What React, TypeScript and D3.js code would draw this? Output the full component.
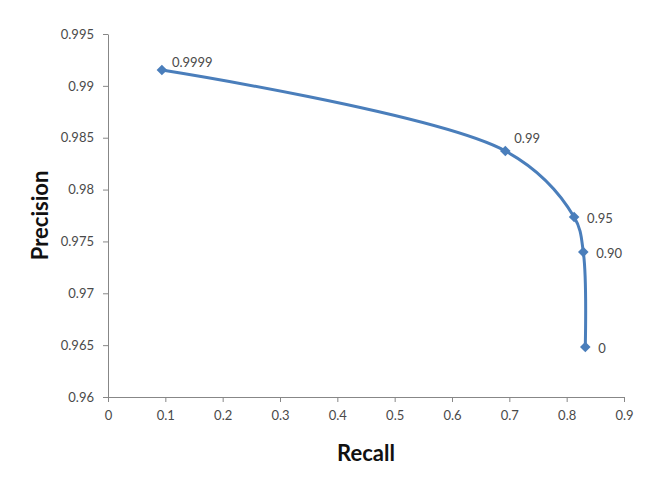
import React, { useEffect, useRef } from "react";
import * as d3 from "d3";

// Precision / recall pairs, one per threshold
const thresholds = ["0.9999", "0.99", "0.95", "0.90", "0"];
const recall = [0.094, 0.693, 0.813, 0.829, 0.8325];
const precision = [0.99153, 0.98372, 0.97735, 0.97398, 0.96482];

const xTicks = [0, 0.1, 0.2, 0.3, 0.4, 0.5, 0.6, 0.7, 0.8, 0.9];
const yTicks = [0.96, 0.965, 0.97, 0.975, 0.98, 0.985, 0.99, 0.995];

// hand-placed label nudges (dx, dy) relative to each point
const labelNudge: [number, number][] = [
  [10, -8],
  [9, -13],
  [13, 1],
  [13, 1],
  [13, 1],
];

const W = 653;
const H = 500;
const margin = { top: 34, right: 29, bottom: 103, left: 108 };

const App: React.FC = () => {
  const svgRef = useRef<SVGSVGElement>(null);

  useEffect(() => {
    document.body.style.margin = "0";
    if (!svgRef.current) return;
    const svg = d3.select(svgRef.current);
    svg.selectAll("*").remove();

    const font = "Lato, 'Open Sans', sans-serif";
    const axisColor = "#878787";
    const textColor = "#4a4a4a";

    const x = d3
      .scaleLinear()
      .domain([0, 0.9])
      .range([margin.left, W - margin.right]);
    const y = d3
      .scaleLinear()
      .domain([0.96, 0.995])
      .range([H - margin.bottom, margin.top]);

    svg.append("rect").attr("width", W).attr("height", H).attr("fill", "#fff");

    // x axis
    const xAxis = svg
      .append("g")
      .attr("transform", `translate(0,${y(0.96)})`)
      .call(
        d3
          .axisBottom(x)
          .tickValues(xTicks)
          .tickSize(5)
          .tickSizeOuter(0)
          .tickPadding(9)
          .tickFormat((d) => d3.format("")(+d))
      );
    xAxis.select(".domain").attr("stroke", axisColor);
    xAxis.selectAll(".tick line").attr("stroke", axisColor);
    xAxis
      .selectAll(".tick text")
      .attr("fill", textColor)
      .style("font-family", font)
      .style("font-size", "13px");

    // y axis
    const yAxis = svg
      .append("g")
      .attr("transform", `translate(${x(0)},0)`)
      .call(
        d3
          .axisLeft(y)
          .tickValues(yTicks)
          .tickSize(5)
          .tickSizeOuter(0)
          .tickPadding(9)
          .tickFormat((d) => d3.format("")(+(+d).toFixed(3)))
      );
    yAxis.select(".domain").attr("stroke", axisColor);
    yAxis.selectAll(".tick line").attr("stroke", axisColor);
    yAxis
      .selectAll(".tick text")
      .attr("fill", textColor)
      .style("font-family", font)
      .style("font-size", "13px");

    const pts: [number, number][] = recall.map((r, i) => [r, precision[i]]);

    const line = d3
      .line<[number, number]>()
      .x((d) => x(d[0]))
      .y((d) => y(d[1]))
      .curve(d3.curveCatmullRom.alpha(0.5));

    svg
      .append("path")
      .attr("d", line(pts))
      .attr("fill", "none")
      .attr("stroke", "#4a7ebb")
      .attr("stroke-width", 3);

    // Excel style diamond: a square turned 45 degrees
    const marker = d3.symbol().type(d3.symbolSquare).size(56);
    svg
      .selectAll(".pt")
      .data(pts)
      .enter()
      .append("path")
      .attr("class", "pt")
      .attr("d", marker)
      .attr("transform", (d) => `translate(${x(d[0])},${y(d[1])}) rotate(45)`)
      .attr("fill", "#4a7ebb");

    svg
      .selectAll(".lbl")
      .data(pts)
      .enter()
      .append("text")
      .attr("class", "lbl")
      .attr("x", (d, i) => x(d[0]) + labelNudge[i][0])
      .attr("y", (d, i) => y(d[1]) + labelNudge[i][1])
      .attr("dy", "0.35em")
      .attr("fill", textColor)
      .style("font-family", font)
      .style("font-size", "13px")
      .text((d, i) => thresholds[i]);

    // axis titles
    svg
      .append("text")
      .attr("x", (x(0) + x(0.9)) / 2)
      .attr("y", 461)
      .attr("text-anchor", "middle")
      .attr("fill", "#111")
      .style("font-family", font)
      .style("font-weight", "bold")
      .style("font-size", "22px")
      .text("Recall");

    svg
      .append("text")
      .attr("transform", `translate(48,${(y(0.96) + y(0.995)) / 2}) rotate(-90)`)
      .attr("text-anchor", "middle")
      .attr("fill", "#111")
      .style("font-family", font)
      .style("font-weight", "bold")
      .style("font-size", "22px")
      .text("Precision");
  }, []);

  return <svg ref={svgRef} width={W} height={H} style={{ display: "block" }} />;
};

export default App;
